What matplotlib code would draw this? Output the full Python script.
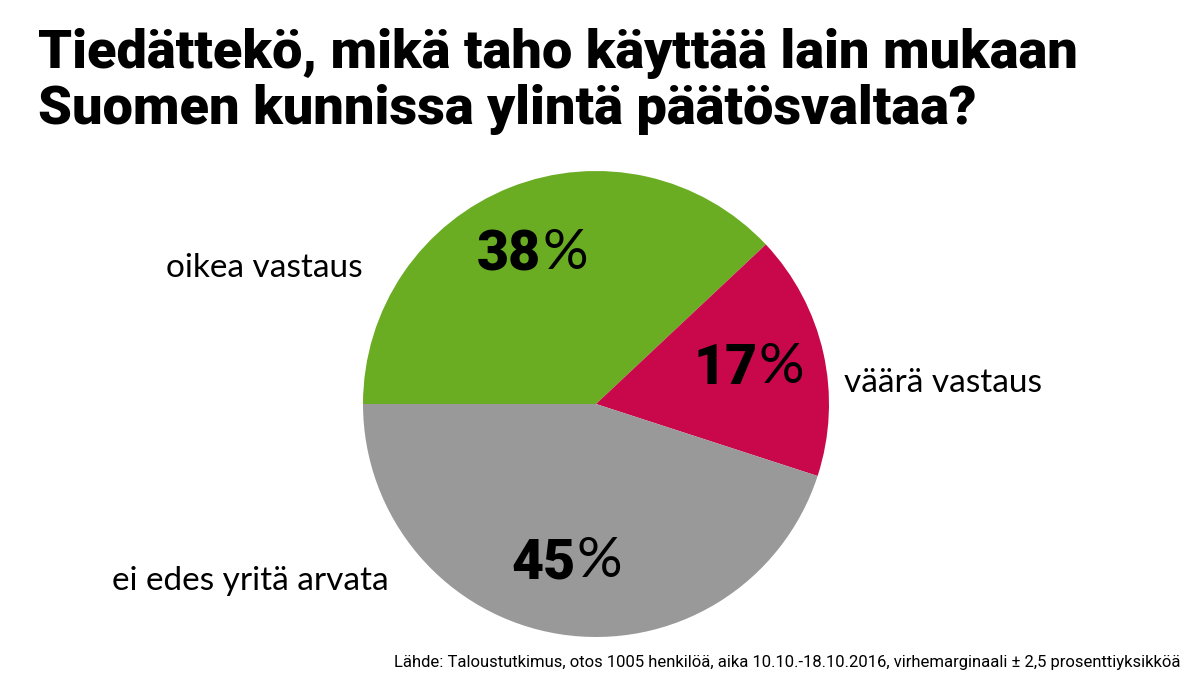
import matplotlib
matplotlib.use("Agg")
import matplotlib.pyplot as plt
import numpy as np

# survey answers
answers = ["oikea vastaus", "väärä vastaus", "ei edes yritä arvata"]
shares = [38, 17, 45]
colors = ["#6aad23", "#c8084a", "#999999"]

title_lines = ["Tiedättekö, mikä taho käyttää lain mukaan",
               "Suomen kunnissa ylintä päätösvaltaa?"]
source = ("Lähde: Taloustutkimus, otos 1005 henkilöä, aika 10.10.-18.10.2016, "
          "virhemarginaali ± 2,5 prosenttiyksikköä")

W, H = 1198, 674
fig = plt.figure(figsize=(W / 100, H / 100), dpi=100)
ax = fig.add_axes([0, 0, 1, 1])

# pie centre at (596, 404) px, radius 233 px
r_px = 233
cx, cy = 596, H - 404

wedges, _ = ax.pie(shares, colors=colors, startangle=180, counterclock=False,
                   radius=1, wedgeprops=dict(linewidth=0))
ax.set_aspect("auto")
ax.set_xlim(-cx / r_px, (W - cx) / r_px)
ax.set_ylim(-cy / r_px, (H - cy) / r_px)
ax.axis("off")

# percent labels inside the slices
for w, s in zip(wedges, shares):
    ang = np.deg2rad((w.theta1 + w.theta2) / 2)
    x, y = 0.69 * np.cos(ang), 0.69 * np.sin(ang)
    ax.text(x + 0.02, y, str(s), ha="right", va="center", fontsize=40,
            family="Roboto", weight="black", color="black")
    ax.text(x + 0.025, y + 0.005, "%", ha="left", va="center", fontsize=41,
            family="Lato", weight="normal", color="black")

# answer labels outside
label_pos = [(-1.0, 0.585, "right"), (1.065, 0.09, "left"), (-0.89, -0.76, "right")]
for name, (x, y, ha) in zip(answers, label_pos):
    ax.text(x, y, name, ha=ha, va="center", fontsize=24, family="Lato",
            weight="normal", color="black")

fig.text(38 / W, 1 - 68 / H, title_lines[0], ha="left", va="baseline",
         fontsize=39, family="Roboto", weight="black")
fig.text(38 / W, 1 - 124 / H, title_lines[1], ha="left", va="baseline",
         fontsize=39, family="Roboto", weight="black")

fig.text(1180 / W, 1 - 667 / H, source, ha="right", va="baseline",
         fontsize=12, family="Roboto", color="black")

fig.savefig("out.png", dpi=100, facecolor="white")
